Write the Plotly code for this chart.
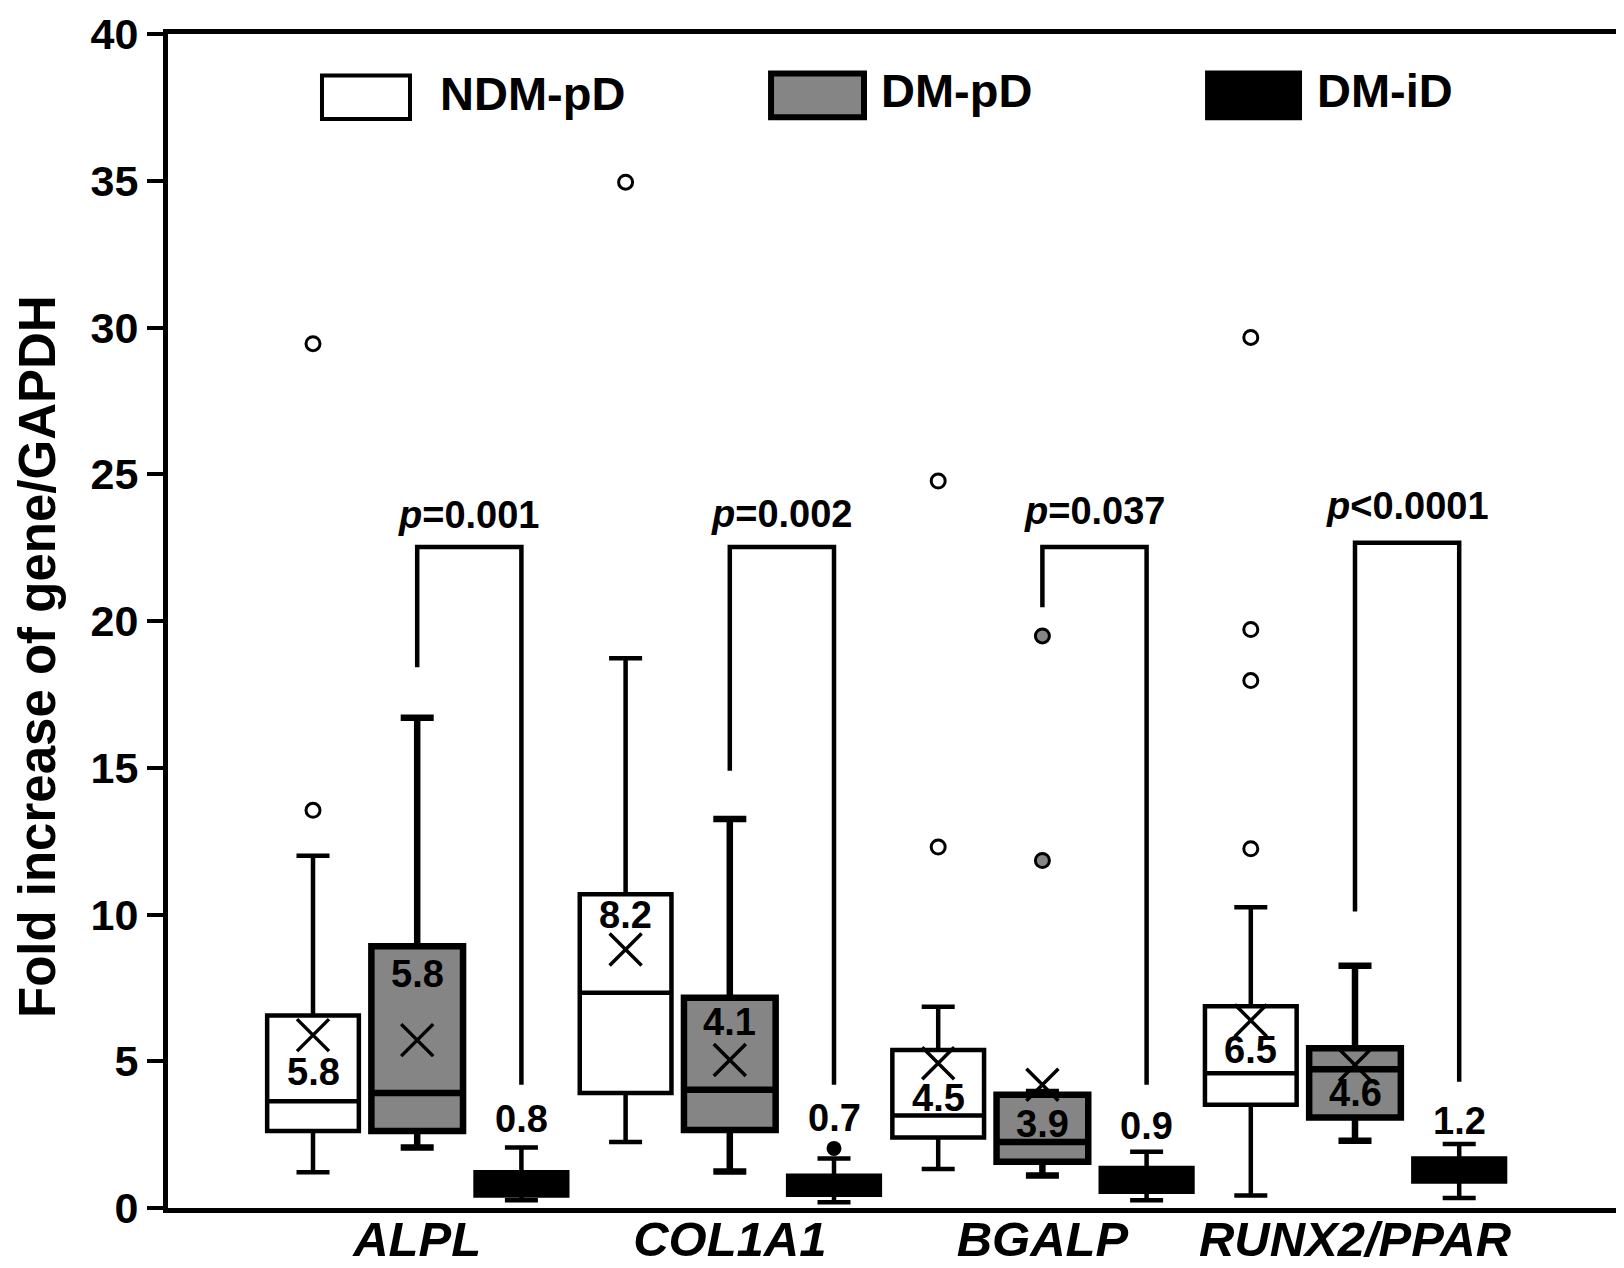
import plotly.graph_objects as go

# ---- data ---------------------------------------------------------------
genes = ["ALPL", "COL1A1", "BGALP", "RUNX2/PPAR"]
series = ["NDM-pD", "DM-pD", "DM-iD"]

ndm_q1 = [2.62, 3.92, 2.40, 3.52]
ndm_median = [3.64, 7.33, 3.15, 4.59]
ndm_q3 = [6.56, 10.69, 5.38, 6.87]
ndm_low = [1.22, 2.25, 1.33, 0.43]
ndm_high = [12.0, 18.73, 6.86, 10.25]
ndm_mean = [5.89, 8.81, 4.93, 6.39]
ndm_outliers = [[13.55, 29.45], [34.95], [12.3, 24.77], [12.24, 17.97, 19.71, 29.66]]
ndm_labels = ["5.8", "8.2", "4.5", "6.5"]

dmp_q1 = [2.62, 2.66, 1.58, 3.08]
dmp_median = [3.92, 4.03, 2.25, 4.73]
dmp_q3 = [8.92, 7.16, 3.86, 5.44]
dmp_low = [2.06, 1.24, 1.11, 2.29]
dmp_high = [16.7, 13.25, 3.95, 8.25]
dmp_mean = [5.72, 5.04, 4.2, 4.87]
dmp_outliers = [[], [], [11.84, 19.49], []]
dmp_labels = ["5.8", "4.1", "3.9", "4.6"]

dmi_q1 = [0.43, 0.45, 0.55, 0.9]
dmi_median = [0.8, 0.75, 0.9, 1.25]
dmi_q3 = [1.22, 1.10, 1.36, 1.69]
dmi_low = [0.26, 0.2, 0.26, 0.34]
dmi_high = [2.06, 1.69, 1.92, 2.18]
dmi_mean = [0.8, 0.7, 0.9, 1.2]
dmi_outliers = [[], [2.03], [], []]
dmi_labels = ["0.8", "0.7", "0.9", "1.2"]

p_values = ["<i>p</i>=0.001", "<i>p</i>=0.002", "<i>p</i>=0.037", "<i>p</i>&lt;0.0001"]

# ---- placement of annotations (layout, not data) -------------------------
label_y = [
    [4.65, 9.99, 3.75, 5.38],
    [7.98, 6.33, 2.85, 3.92],
    [3.02, 3.05, 2.79, 2.96],
]
bracket_top = [22.52, 22.52, 22.52, 22.67]
bracket_left_end = [18.42, 14.9, 20.47, 10.1]
bracket_right_end = [4.2, 4.2, 4.2, 4.3]
p_text_y = [23.6, 23.66, 23.76, 23.93]

FONT = "Liberation Sans, Arial, sans-serif"
GRAY = "#858585"

stats = [
    (ndm_q1, ndm_median, ndm_q3, ndm_low, ndm_high, ndm_mean, ndm_outliers, ndm_labels),
    (dmp_q1, dmp_median, dmp_q3, dmp_low, dmp_high, dmp_mean, dmp_outliers, dmp_labels),
    (dmi_q1, dmi_median, dmi_q3, dmi_low, dmi_high, dmi_mean, dmi_outliers, dmi_labels),
]
fills = ["white", GRAY, "black"]
widths = [4.5, 6.5, 4.5]
outlier_fill = ["white", GRAY, "black"]


def pos(g, k):
    return g * 3 + k


fig = go.Figure()

for k, (q1, med, q3, lo, hi, mean, outs, labels) in enumerate(stats):
    xs = [pos(g, k) for g in range(len(genes))]
    fig.add_trace(go.Box(
        x=xs, q1=q1, median=med, q3=q3, lowerfence=lo, upperfence=hi,
        width=0.88, whiskerwidth=0.36, boxpoints=False,
        fillcolor=fills[k], line=dict(color="black", width=widths[k]),
        name=series[k], showlegend=False,
    ))

    # outliers
    ox, oy = [], []
    for g, vals in enumerate(outs):
        for v in vals:
            ox.append(pos(g, k))
            oy.append(v)
    if ox:
        small = k == 2
        fig.add_trace(go.Scatter(
            x=ox, y=oy, mode="markers", showlegend=False,
            marker=dict(symbol="circle", size=12 if small else 14,
                        color=outlier_fill[k],
                        line=dict(color="black", width=3)),
        ))

    # mean crosses
    if k < 2:
        fig.add_trace(go.Scatter(
            x=xs, y=mean, mode="markers", showlegend=False,
            marker=dict(symbol="x-thin", size=32,
                        line=dict(color="black", width=3.5)),
        ))

    # mean labels
    for g, txt in enumerate(labels):
        fig.add_annotation(
            x=pos(g, k), y=label_y[k][g], text=txt, showarrow=False,
            font=dict(family=FONT, size=38, color="black", weight="bold"),
        )

# significance brackets
bx, by = [], []
for g in range(len(genes)):
    x1, x2 = pos(g, 1), pos(g, 2)
    bx += [x1, x1, x2, x2, None]
    by += [bracket_left_end[g], bracket_top[g], bracket_top[g], bracket_right_end[g], None]
    fig.add_annotation(
        x=g * 3 + 1.5, y=p_text_y[g], text=p_values[g], showarrow=False,
        font=dict(family=FONT, size=38, color="black", weight="bold"),
    )
fig.add_trace(go.Scatter(
    x=bx, y=by, mode="lines", showlegend=False,
    line=dict(color="black", width=4.5),
))

# hand-drawn legend across the top
legend_boxes = [
    (0.1062, 0.1669, 0.9275, 0.9646, "white", 4, 0.1862, 0.949),
    (0.4159, 0.4800, 0.9291, 0.9663, GRAY, 6, 0.4903, 0.952),
    (0.7166, 0.7807, 0.9283, 0.9671, "black", 4, 0.7910, 0.952),
]
for (x0, x1, y0, y1, fc, lw, tx, ty), name in zip(legend_boxes, series):
    fig.add_shape(type="rect", xref="paper", yref="paper",
                  x0=x0, x1=x1, y0=y0, y1=y1,
                  fillcolor=fc, line=dict(color="black", width=lw))
    fig.add_annotation(xref="paper", yref="paper", x=tx, y=ty, text=name,
                       showarrow=False, xanchor="left", yanchor="middle",
                       font=dict(family=FONT, size=47, color="black", weight="bold"))

# y title
fig.add_annotation(xref="paper", yref="paper", x=-0.0905, y=0.47,
                   text="Fold increase of gene/GAPDH", textangle=-90,
                   showarrow=False, xanchor="center", yanchor="middle",
                   font=dict(family=FONT, size=51, color="black", weight="bold"))

fig.update_layout(
    width=1624, height=1268,
    margin=dict(l=160, r=14, t=26, b=68),
    paper_bgcolor="white", plot_bgcolor="white",
    boxmode="overlay", showlegend=False,
    font=dict(family=FONT, color="black"),
)
fig.update_xaxes(
    range=[-1.3916, 12.524], automargin=False,
    tickvals=[pos(g, 1) for g in range(len(genes))],
    ticktext=[f"<i>{g}</i>" for g in genes],
    tickfont=dict(family=FONT, size=49, color="black", weight="bold"),
    ticks="", ticklabelstandoff=-16,
    showline=True, linecolor="black", linewidth=5, mirror=True,
    showgrid=False, zeroline=False,
)
fig.update_yaxes(
    range=[0, 40], tickvals=list(range(0, 41, 5)), automargin=False,
    ticklabeloverflow="allow",
    tickfont=dict(family=FONT, size=43, color="black", weight="bold"),
    ticks="outside", ticklen=16, tickwidth=4, tickcolor="black",
    showline=True, linecolor="black", linewidth=5, mirror=True,
    showgrid=False, zeroline=False,
)

fig.write_html("out.html")
